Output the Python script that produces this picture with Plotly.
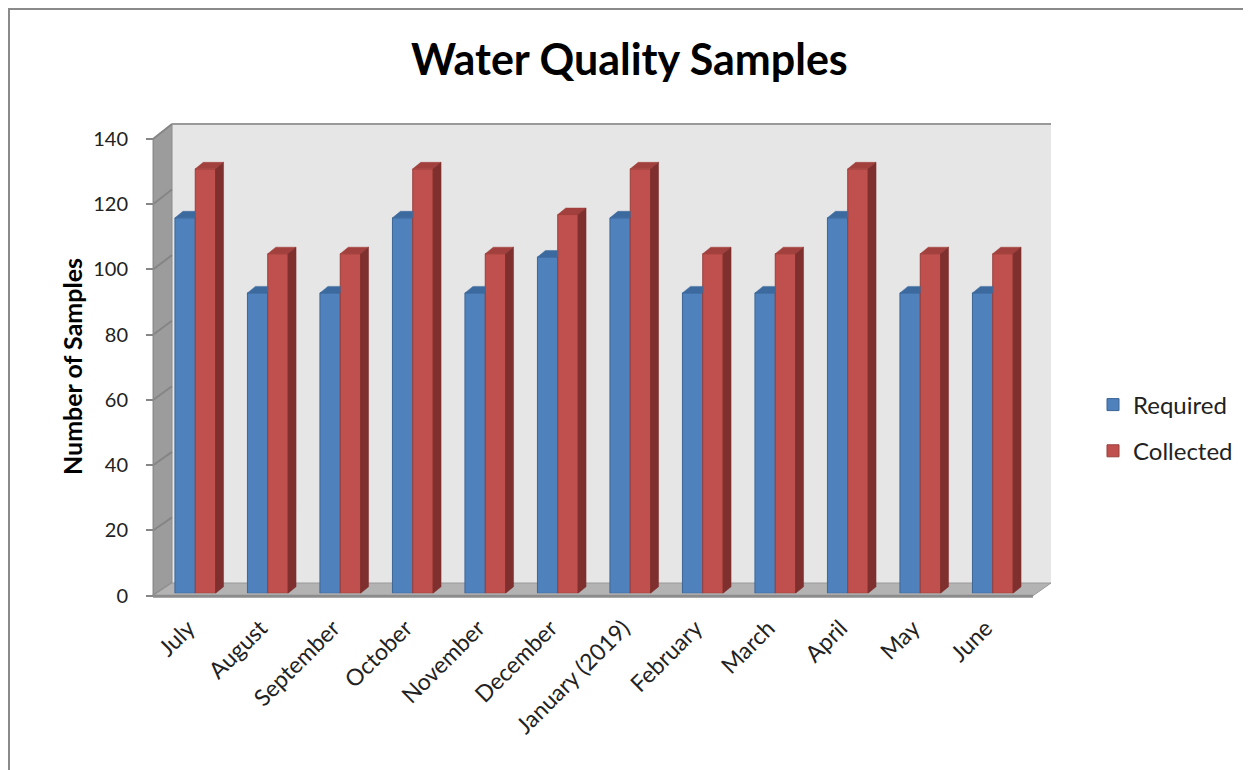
import plotly.graph_objects as go

# ---------------- data ----------------
months = ["July", "August", "September", "October", "November", "December",
          "January (2019)", "February", "March", "April", "May", "June"]
required = [115, 92, 92, 115, 92, 103, 115, 92, 92, 115, 92, 92]
collected = [130, 104, 104, 130, 104, 116, 130, 104, 104, 130, 104, 104]
y_ticks = [0, 20, 40, 60, 80, 100, 120, 140]

# ---------------- geometry helpers (screen pixels -> paper) ----------------
W, H = 1251, 770
OFF = 8  # page body margin
def fx(p): return (p - OFF) / W
def fy(p): return 1 - (p - OFF) / H

FRONT_L, FRONT_R, FRONT_0, FRONT_T = 153, 1033, 595.7, 139
BACK_L, BACK_R, BACK_0, BACK_T = 172, 1051, 583, 124
BAR_X0, BAR_X1 = 159, 1029
BAR_0, BAR_SCALE = 593.3, 3.265
YMAX = 140

def y_front(v): return FRONT_0 - v * (FRONT_0 - FRONT_T) / YMAX
def y_back(v): return BACK_0 - v * (BACK_0 - BACK_T) / YMAX

BW = 0.28          # bar width in category units
DX = 8 / 72.5      # depth offset (category units)
DY = 2.0           # depth offset (value units)

REQ_FRONT, REQ_LINE, REQ_TOP = "#4f81bd", "#3b6594", "#3d6a9e"
COL_FRONT, COL_LINE, COL_TOP, COL_SIDE = "#c0504d", "#9a3c39", "#a2403d", "#7f2f2d"
FONT = "Lato, 'Open Sans', sans-serif"

fig = go.Figure()

fig.add_trace(go.Bar(x=list(range(len(months))), y=required, name="Required",
                     marker=dict(color=REQ_FRONT, line=dict(color=REQ_LINE, width=1)),
                     xaxis="x2", yaxis="y2", legendgroup="a", offset=-BW, width=BW))
fig.add_trace(go.Bar(x=list(range(len(months))), y=collected, name="Collected",
                     marker=dict(color=COL_FRONT, line=dict(color=COL_LINE, width=1)),
                     xaxis="x2", yaxis="y2", legendgroup="b", offset=0, width=BW))

# 3D faces built from data values
rt_x, rt_y, ct_x, ct_y, cs_x, cs_y = [], [], [], [], [], []
for i, (r, c) in enumerate(zip(required, collected)):
    x0, x1 = i - BW, i
    rt_x += [x0, x0 + DX, x1, x1, x0, None]
    rt_y += [r, r + DY, r + DY, r, r, None]
    x0, x1 = i, i + BW
    ct_x += [x0, x0 + DX, x1 + DX, x1, x0, None]
    ct_y += [c, c + DY, c + DY, c, c, None]
    cs_x += [x1, x1 + DX, x1 + DX, x1, x1, None]
    cs_y += [0, DY, c + DY, c, 0, None]

for xs, ys, col in [(rt_x, rt_y, REQ_TOP), (ct_x, ct_y, COL_TOP), (cs_x, cs_y, COL_SIDE)]:
    fig.add_trace(go.Scatter(x=xs, y=ys, mode="lines", fill="toself", fillcolor=col,
                             line=dict(color=col, width=0.5), xaxis="x2", yaxis="y2",
                             showlegend=False, hoverinfo="skip"))

# invisible trace so the front value axis is drawn
fig.add_trace(go.Scatter(x=[0], y=[0], mode="markers", marker=dict(opacity=0),
                         xaxis="x2", yaxis="y3", showlegend=False, hoverinfo="skip"))

shapes = []
# outer border
shapes.append(dict(type="rect", xref="paper", yref="paper", x0=fx(OFF + 1), x1=fx(1248.5),
                   y0=fy(800), y1=fy(OFF + 1), line=dict(color="#8a8a8a", width=2),
                   fillcolor="rgba(0,0,0,0)", layer="below"))
# back wall
shapes.append(dict(type="rect", xref="paper", yref="paper", x0=fx(BACK_L), x1=fx(BACK_R),
                   y0=fy(BACK_0), y1=fy(BACK_T), line=dict(width=0),
                   fillcolor="#e6e6e6", layer="below"))
# side wall
shapes.append(dict(type="path", xref="paper", yref="paper",
                   path=f"M {fx(FRONT_L)} {fy(FRONT_T)} L {fx(BACK_L)} {fy(BACK_T)} "
                        f"L {fx(BACK_L)} {fy(BACK_0)} L {fx(FRONT_L)} {fy(FRONT_0)} Z",
                   fillcolor="#9c9c9c", line=dict(color="#8c8c8c", width=1), layer="below"))
# side wall grid diagonals
for v in y_ticks:
    shapes.append(dict(type="line", xref="paper", yref="paper",
                       x0=fx(FRONT_L), y0=fy(y_front(v)), x1=fx(BACK_L), y1=fy(y_back(v)),
                       line=dict(color="#858585", width=2), layer="below"))
# floor
shapes.append(dict(type="path", xref="paper", yref="paper",
                   path=f"M {fx(FRONT_L)} {fy(FRONT_0)} L {fx(BACK_L)} {fy(BACK_0)} "
                        f"L {fx(BACK_R)} {fy(BACK_0)} L {fx(FRONT_R)} {fy(FRONT_0)} Z",
                   fillcolor="#b3b3b3", line=dict(color="#9a9a9a", width=1), layer="below"))
shapes.append(dict(type="line", xref="paper", yref="paper",
                   x0=fx(FRONT_L), y0=fy(FRONT_0 + 0.5), x1=fx(FRONT_R), y1=fy(FRONT_0 + 0.5),
                   line=dict(color="#8c8c8c", width=3), layer="below"))
# back wall top edge
shapes.append(dict(type="line", xref="paper", yref="paper",
                   x0=fx(BACK_L), y0=fy(BACK_T), x1=fx(BACK_R), y1=fy(BACK_T),
                   line=dict(color="#999999", width=2), layer="below"))

fig.update_layout(
    width=W, height=H, autosize=False,
    margin=dict(l=0, r=0, t=0, b=0, pad=0, autoexpand=False),
    paper_bgcolor="white", plot_bgcolor="rgba(0,0,0,0)",
    barmode="overlay",
    showlegend=True,
    shapes=shapes,
    font=dict(family=FONT, color="#222222"),
    xaxis=dict(domain=[fx(BACK_L), fx(BACK_R)], range=[0, 1], visible=False, fixedrange=True,
               automargin=False),
    yaxis=dict(domain=[fy(BACK_0), fy(BACK_T)], range=[0, YMAX], tickvals=y_ticks,
               showgrid=True, gridcolor="#999999", gridwidth=2, showticklabels=False,
               zeroline=False, showline=False, ticks="", automargin=False),
    xaxis2=dict(domain=[fx(BAR_X0), fx(BAR_X1)], range=[-0.5, len(months) - 0.5],
                overlaying="x", anchor="y2", tickvals=list(range(len(months))), ticktext=months,
                tickangle=-45, showgrid=False, zeroline=False, showline=False, ticks="",
                automargin=False, ticklabelstandoff=16, ticklabelshift=-7,
                tickfont=dict(size=23, family=FONT, color="#222222")),
    yaxis2=dict(domain=[fy(BAR_0), fy(BAR_0 - YMAX * BAR_SCALE)], range=[0, YMAX],
                overlaying="y", anchor="x2", visible=False, automargin=False),
    yaxis3=dict(domain=[fy(FRONT_0), fy(FRONT_T)], range=[0, YMAX], tickvals=y_ticks,
                overlaying="y", anchor="free", position=fx(FRONT_L), side="left",
                showgrid=False, zeroline=False, showline=True, linecolor="#8c8c8c", linewidth=1,
                ticks="outside", ticklen=7, tickcolor="#868686", tickwidth=2, automargin=False,
                ticklabelstandoff=14, tickfont=dict(size=20, family=FONT, color="#222222")),
    legend=dict(x=fx(1093), y=fy(428), xanchor="left", yanchor="middle",
                font=dict(size=24, family=FONT, color="#222222"),
                tracegroupgap=12, bgcolor="rgba(0,0,0,0)", traceorder="grouped"),
    annotations=[
        dict(text="<b>Water Quality Samples</b>", xref="paper", yref="paper",
             x=fx(629), y=fy(58), xanchor="center", yanchor="middle", showarrow=False,
             font=dict(size=43, family=FONT, color="#000000")),
        dict(text="<b>Number of Samples</b>", xref="paper", yref="paper",
             x=fx(72), y=fy(367), xanchor="center", yanchor="middle", showarrow=False,
             textangle=-90, font=dict(size=25, family=FONT, color="#000000")),
    ],
)

fig.write_html("out.html")
